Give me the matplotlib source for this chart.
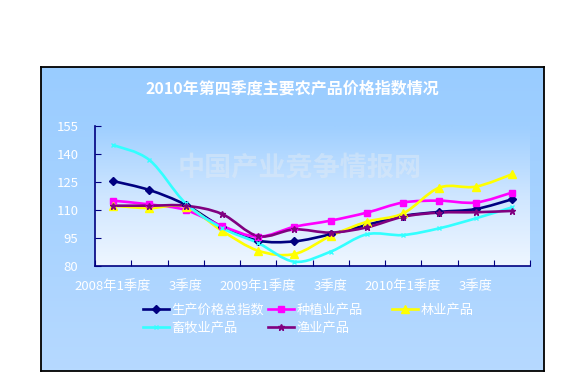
import numpy as np
import matplotlib.pyplot as plt
from matplotlib.path import Path
from matplotlib.patches import PathPatch
from matplotlib.lines import Line2D
from matplotlib.colors import LinearSegmentedColormap

plt.rcParams['font.family'] = ['Noto Sans CJK SC', 'DejaVu Sans']

# data
quarters = ["2008年1季度", "2季度", "3季度", "4季度",
            "2009年1季度", "2季度", "3季度", "4季度",
            "2010年1季度", "2季度", "3季度", "4季度"]
tick_labels = ["2008年1季度", "3季度", "2009年1季度", "3季度", "2010年1季度", "3季度"]
total_index = [125.5, 120.7, 112.8, 101.0, 93.6, 93.2, 97.0, 102.0, 106.8, 109.0, 110.5, 115.7]
crop_products = [115.0, 113.0, 110.0, 101.5, 95.7, 101.0, 104.3, 108.6, 114.0, 115.0, 114.0, 119.3]
forest_products = [112.3, 111.0, 111.8, 98.9, 88.2, 86.4, 96.1, 103.7, 108.2, 122.0, 122.5, 129.1]
livestock_products = [144.8, 136.8, 113.6, 100.4, 92.3, 82.3, 87.7, 97.0, 96.6, 100.2, 105.5, 111.4]
fishery_products = [112.3, 112.3, 112.3, 107.9, 96.0, 99.6, 97.9, 100.7, 106.4, 108.6, 108.8, 109.5]

series = [
    ("生产价格总指数", total_index, "#000080", "D", 4),
    ("种植业产品", crop_products, "#FF00FF", "s", 4.5),
    ("林业产品", forest_products, "#FFFF00", "^", 5.5),
    ("畜牧业产品", livestock_products, "#33FFFF", "x", 3),
    ("渔业产品", fishery_products, "#800080", "*", 4.5),
]


def smooth_path(xs, ys):
    # excel-like smoothed line: cubic bezier through each point
    pts = np.column_stack([xs, ys]).astype(float)
    n = len(pts)
    verts = [pts[0]]
    codes = [Path.MOVETO]
    for i in range(n - 1):
        p0 = pts[i - 1] if i > 0 else pts[i]
        p1, p2 = pts[i], pts[i + 1]
        p3 = pts[i + 2] if i + 2 < n else pts[i + 1]
        c1 = p1 + (p2 - p0) / 6.0
        c2 = p2 - (p3 - p1) / 6.0
        verts += [c1, c2, p2]
        codes += [Path.CURVE4] * 3
    return Path(verts, codes)


fig = plt.figure(figsize=(5.73, 3.80), dpi=100)
fig.patch.set_facecolor("white")

# outer chart area with gradient
bg = fig.add_axes([41 / 573, 1 - 371 / 380, 503 / 573, 304 / 380])
outer_cmap = LinearSegmentedColormap.from_list("outer", ["#B6D9FF", "#99CCFF"])
bg.imshow(np.linspace(0, 1, 100).reshape(-1, 1), cmap=outer_cmap, origin="lower",
          aspect="auto", extent=(0, 1, 0, 1))
bg.set_xticks([])
bg.set_yticks([])
for s in bg.spines.values():
    s.set_color("black")
    s.set_linewidth(1.3)

bg.text(0.5, 1 - 22 / 304, "2010年第四季度主要农产品价格指数情况", transform=bg.transAxes,
        ha="center", va="center", color="white", fontsize=11.5, fontweight="bold")

# plot area
ax = fig.add_axes([95 / 573, 1 - 266 / 380, 435 / 573, 140 / 380])
ax.set_facecolor("none")
inner_cmap = LinearSegmentedColormap.from_list("inner", ["#EEF6FF", "#CFE6FF", "#9FCFFF"])
ax.imshow(np.linspace(0, 1, 100).reshape(-1, 1), cmap=inner_cmap, origin="lower",
          aspect="auto", extent=(-0.5, 11.5, 80, 155), zorder=0)

ax.text(5.15, 133, "中国产业竞争情报网", ha="center", va="center", fontsize=19.5,
        fontweight="bold", color="#E4ECF4", alpha=0.45, zorder=1)

x = np.arange(len(quarters))
handles = []
for name, vals, color, marker, ms in series:
    ax.add_patch(PathPatch(smooth_path(x, vals), facecolor="none", edgecolor=color,
                           linewidth=1.9, zorder=3))
    ax.plot(x, vals, linestyle="none", marker=marker, color=color, markersize=ms,
            markeredgewidth=1.0, zorder=4)
    handles.append(Line2D([], [], color=color, linewidth=1.9, marker=marker,
                          markersize=ms, markeredgewidth=1.0, label=name))

ax.set_xlim(-0.5, 11.5)
ax.set_ylim(80, 155)
ax.set_yticks([80, 95, 110, 125, 140, 155])
ax.tick_params(axis="y", direction="in", length=4, color="#000080", labelcolor="white",
               labelsize=9.5, pad=12)
ax.set_xticks(np.arange(-0.5, 12, 1))
ax.set_xticklabels([])
ax.set_xticks(np.arange(0, 12, 2), minor=True)
ax.set_xticklabels(tick_labels, minor=True)
ax.tick_params(axis="x", which="major", direction="in", length=4, color="#000080")
ax.tick_params(axis="x", which="minor", length=0, labelcolor="white", labelsize=9.5, pad=10)
for side in ["top", "right"]:
    ax.spines[side].set_visible(False)
for side in ["left", "bottom"]:
    ax.spines[side].set_color("#000080")
    ax.spines[side].set_linewidth(1.2)

leg_kw = dict(frameon=False, fontsize=9.5, labelcolor="white", handlelength=2.0,
              handletextpad=0.15, labelspacing=0.35, borderpad=0, borderaxespad=0,
              columnspacing=0.3, loc="upper left")
leg1 = fig.legend(handles=[handles[0], handles[3], handles[1], handles[4]], ncol=2,
                  bbox_to_anchor=(143 / 573, 1 - 304 / 380), **leg_kw)
leg2 = fig.legend(handles=[handles[2]], ncol=1,
                  bbox_to_anchor=(392 / 573, 1 - 304 / 380), **leg_kw)

fig.savefig("out.png", dpi=100)
